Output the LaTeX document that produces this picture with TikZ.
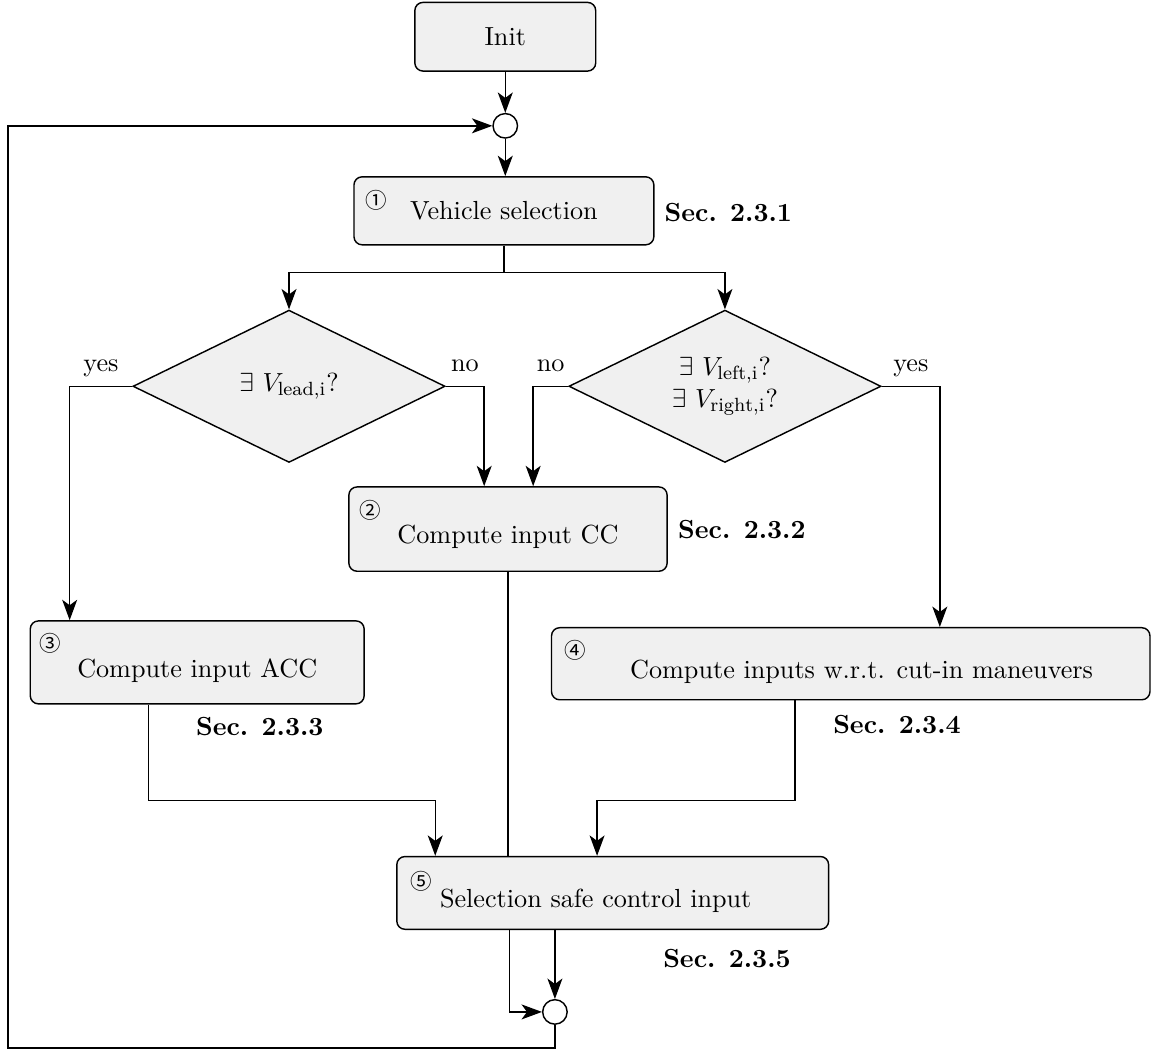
\documentclass[tikz,border=0pt,11pt]{standalone}
\usepackage{fontspec}
\newfontfamily\circfont{Noto Sans CJK JP}
\usepackage{amsmath}
\usetikzlibrary{shapes.geometric, arrows.meta, positioning}
\definecolor{boxgray}{gray}{0.94}

\tikzset{
  stepbox/.style={draw, semithick, rounded corners=1.2mm, fill=boxgray},
  lowtext/.style={text height=3.1ex, text depth=0.5ex},
  query/.style={draw, semithick, diamond, fill=boxgray, aspect=2.05, inner sep=0pt,
    align=center, minimum width=4.59cm, minimum height=2.24cm},
  joint/.style={draw, semithick, circle, fill=white, inner sep=0pt, minimum size=0.36cm},
  numtag/.style={font=\circfont\footnotesize, inner sep=0pt},
  sec/.style={font=\bfseries},
  answer/.style={above, pos=0.25, text depth=0.5ex},
}

\begin{document}
\begin{tikzpicture}[>={Stealth[length=3mm, width=2.2mm, inset=0.8mm]}, semithick]
    \useasboundingbox (0,0) rectangle (16.94,-15.49);

    % steps
    \node[stepbox, minimum width=2.66cm, minimum height=1.01cm] (init) at (7.43,-0.54) {Init};
    \node[joint] (top) at (7.43,-1.85) {};
    \node[stepbox, minimum width=4.41cm, minimum height=1.0cm] (vsel) at (7.41,-3.10) {Vehicle selection};

    % checks
    \node[query] (lead) at (4.25,-5.68) {$\exists~V_{\mathrm{lead,i}}$?};
    \node[query] (side) at (10.66,-5.68) {$\exists~V_{\mathrm{left,i}}$?\\ $\exists~V_{\mathrm{right,i}}$?};

    % inputs
    \node[stepbox, lowtext, minimum width=4.68cm, minimum height=1.24cm] (cc) at (7.47,-7.78) {Compute input CC};
    \node[stepbox, lowtext, minimum width=4.91cm, minimum height=1.22cm] (acc) at (2.90,-9.74) {Compute input ACC};
    \node[stepbox, lowtext, minimum width=8.80cm, minimum height=1.06cm] (cut) at (12.51,-9.76) {\hspace*{0.32cm}Compute inputs w.r.t. cut-in maneuvers};
    \node[stepbox, lowtext, minimum width=6.35cm, minimum height=1.07cm] (fin) at (9.01,-13.13) {Selection safe control input\hspace*{0.5cm}};
    \node[joint] (bot) at (8.16,-14.88) {};
    \coordinate (back) at (0.12,-15.41);

    % step numbers
    \node[numtag] (n1) at ([shift={(0.34,-0.36)}]vsel.north west) {①};
    \node[numtag] (n2) at ([shift={(0.32,-0.36)}]cc.north west) {②};
    \node[numtag] (n3) at ([shift={(0.30,-0.34)}]acc.north west) {③};
    \node[numtag] (n4) at ([shift={(0.36,-0.34)}]cut.north west) {④};
    \node[numtag] (n5) at ([shift={(0.37,-0.38)}]fin.north west) {⑤};

    % section references
    \node[sec] (s1) at (10.71,-3.13) {Sec. 2.3.1};
    \node[sec] (s2) at (10.91,-7.79) {Sec. 2.3.2};
    \node[sec] (s3) at (3.82,-10.68) {Sec. 2.3.3};
    \node[sec] (s4) at (13.19,-10.65) {Sec. 2.3.4};
    \node[sec] (s5) at (10.69,-14.09) {Sec. 2.3.5};

    % flow
    \draw[->] (init) -- (top);
    \draw[->] (top.south) -- (top.south |- vsel.north);
    \draw (vsel.south) -- ++(0,-0.4) coordinate (fork);
    \draw[->] (fork) -| (lead.north);
    \draw[->] (fork) -| (side.north);
    \draw[->] (lead.west) -| node[answer] (y1) {yes} ([xshift=0.59cm]acc.north west);
    \draw[->] (lead.east) -| node[answer] (no1) {no} ([xshift=-0.35cm]cc.north);
    \draw[->] (side.west) -| node[answer] (no2) {no} ([xshift=0.37cm]cc.north);
    \draw[->] (side.east) -| node[answer] (y2) {yes} ([xshift=1.31cm]cut.north);
    \draw (cc.south) -- (cc.south |- fin.north);
    \draw[->] ([xshift=-0.72cm]acc.south) -- ++(0,-1.41) -| ([xshift=-2.61cm]fin.north);
    \draw[->] ([xshift=-0.82cm]cut.south) -- ++(0,-1.47) -| ([xshift=-0.23cm]fin.north);
    \draw[->] ([xshift=-1.52cm]fin.south) |- (bot.west);
    \draw[->] (fin.south -| bot.north) -- (bot.north);
    \draw[->] (bot.south) |- (back) |- (top.west);
\end{tikzpicture}
\end{document}
